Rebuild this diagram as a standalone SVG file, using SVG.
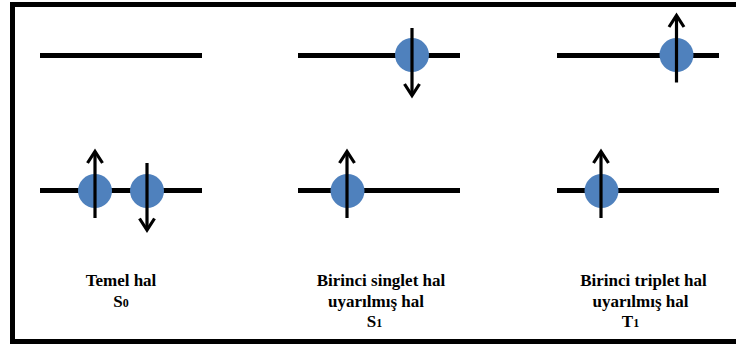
<svg xmlns="http://www.w3.org/2000/svg" width="736" height="344" viewBox="0 0 736 344">
<defs>
<style>
.lvl{stroke:#000;stroke-width:5;fill:none}
.e{fill:#4F81BD}
.spin{stroke:#000;stroke-width:3.2;fill:none}
.head{stroke:#000;stroke-width:3.2;fill:none;stroke-linejoin:miter}
.t{font-family:"Liberation Serif","Times New Roman",serif;font-weight:bold;font-size:17px;fill:#000;text-anchor:middle}
.sub{font-size:12px}
</style>
</defs>
<rect x="0" y="0" width="736" height="344" fill="#fff"/>
<rect x="12.5" y="4.5" width="740" height="337" fill="none" stroke="#000" stroke-width="5"/>
<g id="S0">
<line class="lvl" x1="40" y1="55.5" x2="202" y2="55.5"/>
<line class="lvl" x1="40" y1="190.5" x2="202" y2="190.5"/>
<circle class="e" cx="95" cy="191" r="17"/>
<circle class="e" cx="147" cy="191" r="17"/>
<line class="spin" x1="95" y1="218" x2="95" y2="153"/>
<polyline class="head" points="87.5,163 95,151.5 102.5,163"/>
<line class="spin" x1="147" y1="163" x2="147" y2="228.5"/>
<polyline class="head" points="139.5,218.5 147,230 154.5,218.5"/>
<text class="t" x="121" y="286">Temel hal</text>
<text class="t" x="121" y="307">S<tspan class="sub">0</tspan></text>
</g>
<g id="S1">
<line class="lvl" x1="298" y1="55.5" x2="460" y2="55.5"/>
<line class="lvl" x1="298" y1="190.5" x2="460" y2="190.5"/>
<circle class="e" cx="412" cy="55" r="17"/>
<line class="spin" x1="412" y1="28" x2="412" y2="93.5"/>
<polyline class="head" points="404.5,84 412,95.5 419.5,84"/>
<circle class="e" cx="347.5" cy="191" r="17"/>
<line class="spin" x1="347" y1="218" x2="347" y2="153"/>
<polyline class="head" points="339.5,163 347,151.5 354.5,163"/>
<text class="t" x="381" y="286">Birinci singlet hal</text>
<text class="t" x="376" y="307">uyarılmış hal</text>
<text class="t" x="374.5" y="327">S<tspan class="sub">1</tspan></text>
</g>
<g id="T1">
<line class="lvl" x1="557" y1="55.5" x2="719" y2="55.5"/>
<line class="lvl" x1="557" y1="190.5" x2="719" y2="190.5"/>
<circle class="e" cx="676.5" cy="55" r="17"/>
<line class="spin" x1="676.5" y1="82.5" x2="676.5" y2="17.5"/>
<polyline class="head" points="669,27 676.5,15.5 684,27"/>
<circle class="e" cx="601.5" cy="191" r="17"/>
<line class="spin" x1="601" y1="218" x2="601" y2="153"/>
<polyline class="head" points="593.5,163 601,151.5 608.5,163"/>
<text class="t" x="643.5" y="286">Birinci triplet hal</text>
<text class="t" x="640.5" y="307">uyarılmış hal</text>
<text class="t" x="630.5" y="327">T<tspan class="sub">1</tspan></text>
</g>
<g id="connectors"></g>
</svg>
